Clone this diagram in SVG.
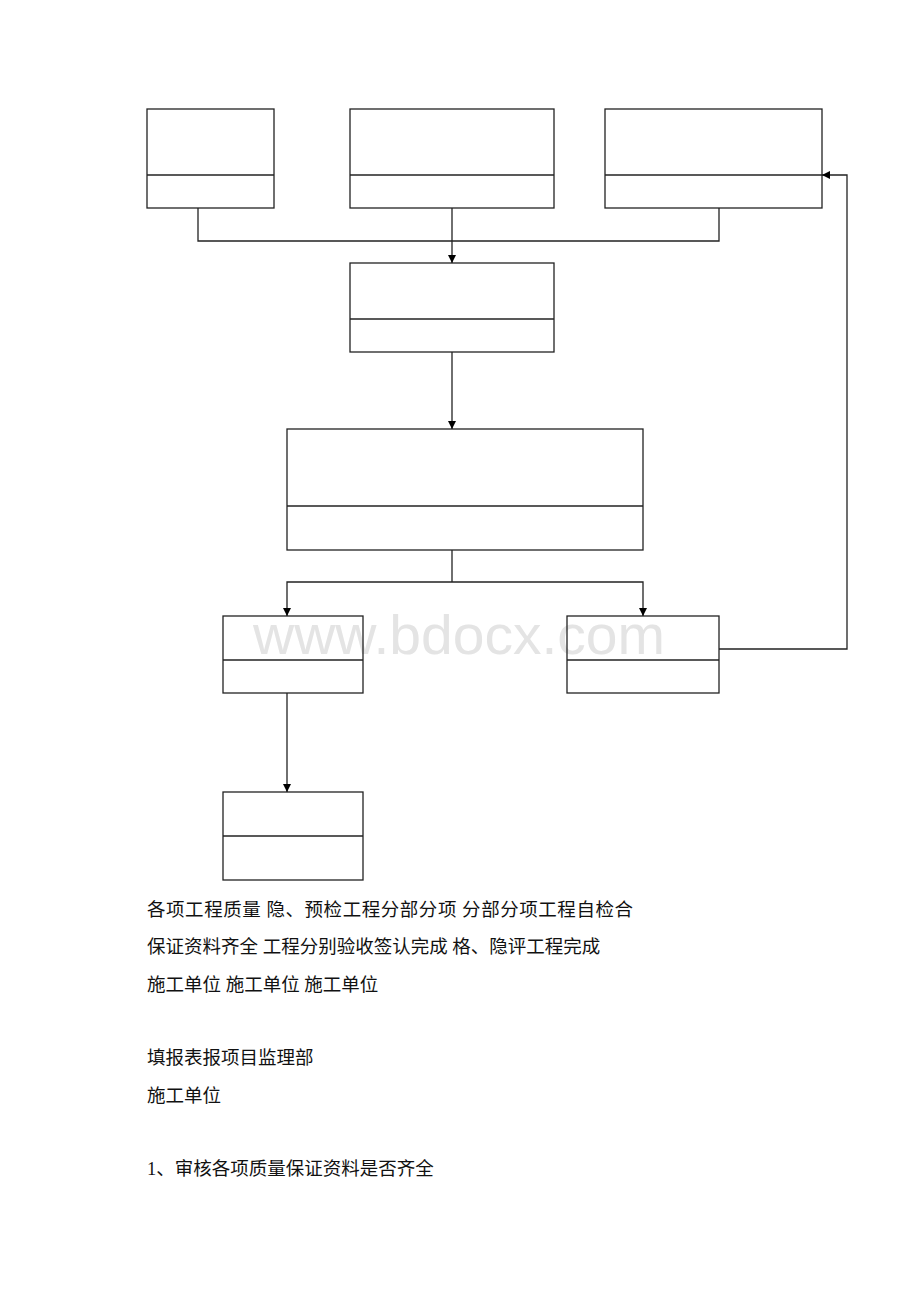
<svg xmlns="http://www.w3.org/2000/svg" width="920" height="1302" viewBox="0 0 920 1302">
<defs>
<marker id="ah" viewBox="0 0 10 10" refX="10" refY="5" markerWidth="8" markerHeight="8" markerUnits="userSpaceOnUse" orient="auto">
<path d="M0,0 L10,5 L0,10 Z" fill="#000"/>
</marker>
<style>
.box{fill:none;stroke:#222;stroke-width:1.3}
.div{stroke:#222;stroke-width:1.3}
.con{fill:none;stroke:#222;stroke-width:1.3}
.arr{fill:none;stroke:#222;stroke-width:1.3;marker-end:url(#ah)}
.t{font-family:"Liberation Serif","Noto Sans CJK SC",serif;font-size:18.5px;fill:#111}
.wm{font-family:"Liberation Sans",Arial,sans-serif;font-size:56px;fill:#e4e4e4}
</style>
</defs>
<rect width="920" height="1302" fill="#fff"/>
<text class="wm" x="253" y="654" textLength="412" lengthAdjust="spacingAndGlyphs">www.bdocx.com</text>
<g id="n1"><rect class="box" x="147" y="109" width="127" height="99"/><line class="div" x1="147" y1="175" x2="274" y2="175"/></g>
<g id="n2"><rect class="box" x="350" y="109" width="204" height="99"/><line class="div" x1="350" y1="175" x2="554" y2="175"/></g>
<g id="n3"><rect class="box" x="605" y="109" width="217" height="99"/><line class="div" x1="605" y1="175" x2="822" y2="175"/></g>
<g id="n4"><rect class="box" x="350" y="263" width="204" height="89"/><line class="div" x1="350" y1="319" x2="554" y2="319"/></g>
<g id="n5"><rect class="box" x="287" y="429" width="356" height="121"/><line class="div" x1="287" y1="506" x2="643" y2="506"/></g>
<g id="n6"><rect class="box" x="223" y="616" width="140" height="77"/><line class="div" x1="223" y1="660" x2="363" y2="660"/></g>
<g id="n7"><rect class="box" x="567" y="616" width="152" height="77"/><line class="div" x1="567" y1="660" x2="719" y2="660"/></g>
<g id="n8"><rect class="box" x="223" y="792" width="140" height="88"/><line class="div" x1="223" y1="836" x2="363" y2="836"/></g>
<g id="connectors">
<polyline class="con" points="198,208 198,241 719,241 719,208"/>
<line class="arr" x1="452" y1="208" x2="452" y2="263"/>
<line class="arr" x1="452" y1="352" x2="452" y2="429"/>
<polyline class="con" points="452,550 452,582"/>
<polyline class="arr" points="452,582 287,582 287,616"/>
<polyline class="arr" points="452,582 643,582 643,616"/>
<line class="arr" x1="287" y1="693" x2="287" y2="792"/>
<polyline class="arr" points="719,649 847,649 847,175 822,175"/>
</g>
<g id="texts">
<text class="t" x="147" y="916" xml:space="preserve" textLength="486">各项工程质量 隐、预检工程分部分项 分部分项工程自检合</text>
<text class="t" x="147" y="953" xml:space="preserve">保证资料齐全 工程分别验收签认完成 格、隐评工程完成</text>
<text class="t" x="147" y="991" xml:space="preserve">施工单位 施工单位 施工单位</text>
<text class="t" x="147" y="1064">填报表报项目监理部</text>
<text class="t" x="147" y="1102">施工单位</text>
<text class="t" x="147" y="1175">1、审核各项质量保证资料是否齐全</text>
</g>
</svg>
